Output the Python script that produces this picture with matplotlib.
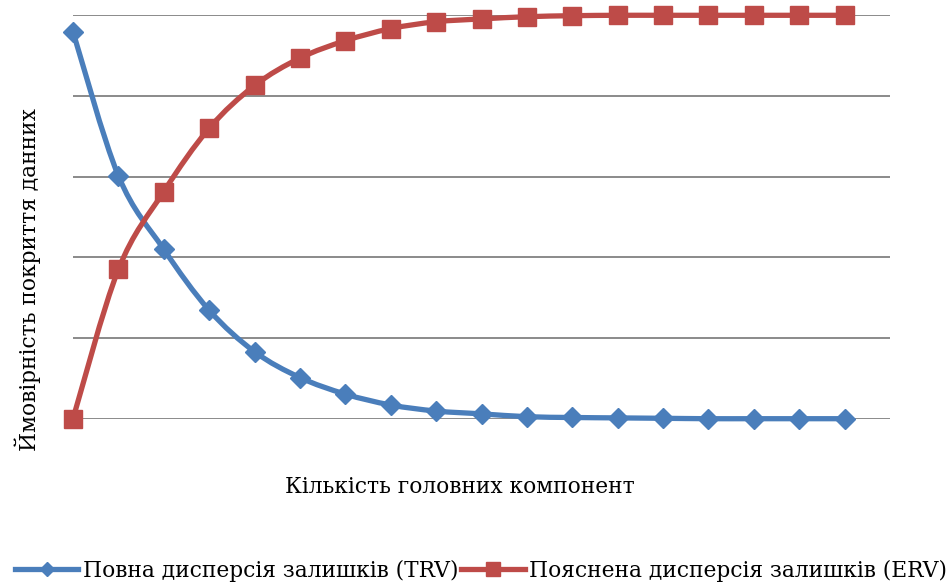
import numpy as np
import matplotlib
matplotlib.use("Agg")
import matplotlib.pyplot as plt
from matplotlib.path import Path
from matplotlib.patches import PathPatch
from matplotlib.lines import Line2D

components = list(range(1, 19))
trv = [0.959, 0.602, 0.420, 0.269, 0.166, 0.102, 0.061, 0.034, 0.019, 0.012,
       0.005, 0.003, 0.002, 0.001, 0.0, 0.0, 0.0, 0.0]
erv = [0.0, 0.370, 0.563, 0.720, 0.826, 0.894, 0.937, 0.967, 0.984, 0.991,
       0.9965, 0.999, 1.0, 1.0, 1.0, 1.0, 1.0, 1.0]
series_names = ["Повна дисперсія залишків (TRV)", "Пояснена дисперсія залишків (ERV)"]
xlabel = "Кількість головних компонент"
ylabel = "Ймовірність покриття данних"

BLUE = "#4A7EBB"
RED = "#BE4B48"
FONT = "DejaVu Serif"
FS = 15.7

def smooth_path(x, y):
    x = np.asarray(x, float); y = np.asarray(y, float)
    n = len(x)
    verts = [(x[0], y[0])]
    codes = [Path.MOVETO]
    for i in range(n - 1):
        x0, y0 = (x[i - 1], y[i - 1]) if i > 0 else (x[i], y[i])
        x3, y3 = (x[i + 2], y[i + 2]) if i + 2 < n else (x[i + 1], y[i + 1])
        c1 = (x[i] + (x[i + 1] - x0) / 6, y[i] + (y[i + 1] - y0) / 6)
        c2 = (x[i + 1] - (x3 - x[i]) / 6, y[i + 1] - (y3 - y[i]) / 6)
        verts += [c1, c2, (x[i + 1], y[i + 1])]
        codes += [Path.CURVE4] * 3
    return Path(verts, codes)

fig = plt.figure(figsize=(9.51, 5.83), dpi=100)
ax = fig.add_axes([73 / 951, (583 - 418.7) / 583, (890 - 73) / 951, (418.7 - 15.3) / 583])
xpos = np.arange(len(components))
ax.set_xlim(0, len(components))
ax.set_ylim(0, 1)
for v in np.arange(0, 1.01, 0.2):
    ax.axhline(v, color="#8A8A8A", lw=1.4, zorder=1)

for vals, col, mk, ms in [(trv, BLUE, "D", 10.5), (erv, RED, "s", 13.5)]:
    patch = PathPatch(smooth_path(xpos, vals), facecolor="none", edgecolor=col,
                      lw=3.8, zorder=3, clip_on=False, capstyle="round", joinstyle="round")
    ax.add_patch(patch)
    ax.plot(xpos, vals, linestyle="none", marker=mk, ms=ms, color=col,
            markeredgecolor=col, zorder=4, clip_on=False)

for s in ax.spines.values():
    s.set_visible(False)
ax.set_xticks([]); ax.set_yticks([])

fig.text(460 / 951, 1 - 487 / 583, xlabel, ha="center", va="center",
         fontsize=FS, family=FONT)
fig.text(28 / 951, 1 - 280 / 583, ylabel, ha="center", va="center",
         rotation=90, fontsize=FS, family=FONT)

handles = [Line2D([], [], color=BLUE, lw=3.8, marker="D", ms=7.5),
           Line2D([], [], color=RED, lw=3.8, marker="s", ms=9.5)]
fig.legend(handles, series_names, loc="center", bbox_to_anchor=(481 / 951, 1 - 571 / 583),
           ncol=2, frameon=False, prop={"family": FONT, "size": FS},
           handlelength=2.9, handletextpad=0.2, columnspacing=0.15)

fig.savefig("out.png", dpi=100)
